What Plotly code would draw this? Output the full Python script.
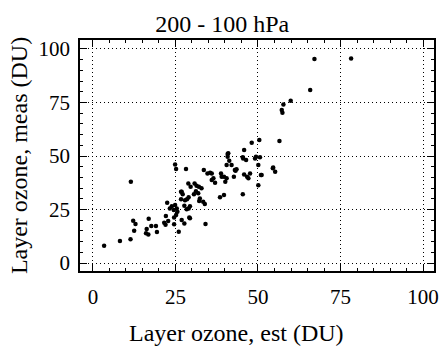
import plotly.graph_objects as go

# Estimated vs measured layer ozone, 200-100 hPa layer (DU)
est_du = [
    3.4, 8.2, 11.4, 11.5, 12.2, 12.9, 12.5, 16.3, 16.1, 16.8, 16.9, 17.7, 19.1, 19.4,
    21.6, 22.0, 22.8, 22.1, 22.5, 23.3, 23.9, 24.5, 24.9, 25.4, 25.6, 25.2, 24.6, 24.6,
    26.0, 24.9, 25.2, 28.2, 26.7, 27.2, 26.7, 27.9, 28.5, 29.0, 27.7, 28.4, 29.0, 29.4,
    29.2, 27.7, 28.9, 29.6, 30.8, 31.4, 32.1, 32.9, 30.6, 31.2, 31.9, 32.4, 32.2, 33.4,
    33.9, 34.1, 33.6, 34.7, 35.5, 36.0, 36.5, 38.5, 39.7, 38.8, 39.7, 40.5, 40.1, 40.5,
    40.8, 41.3, 42.0, 43.2, 43.5, 42.7, 45.4, 45.8, 46.4, 45.8, 45.4, 46.7, 47.6, 48.1,
    49.4, 50.1, 50.1,
    67.1, 78.2, 65.8, 59.9, 57.7, 57.2, 57.4, 50.4, 56.5, 54.6, 49.1, 51.1, 54.5, 55.2,
    41.0, 40.8, 45.5, 50.6, 43.0, 47.1, 50.9, 36.0, 37.0, 39.0, 26.9, 26.9, 29.4,
]
meas_du = [
    8.1, 10.3, 11.1, 38.0, 19.8, 18.2, 15.1, 15.9, 13.9, 13.4, 20.7, 17.3, 17.3, 14.5,
    18.8, 17.9, 19.6, 22.0, 28.2, 25.5, 26.6, 24.8, 27.1, 25.5, 24.0, 22.4, 21.3, 18.1,
    14.6, 46.1, 43.9, 43.9, 33.3, 32.1, 29.8, 29.4, 29.8, 30.7, 26.8, 25.1, 25.5, 26.6,
    21.3, 18.5, 37.2, 35.7, 37.2, 36.1, 35.7, 34.9, 32.1, 33.6, 32.6, 30.2, 29.0, 28.7,
    27.6, 18.2, 43.5, 41.9, 42.2, 38.8, 39.6, 30.7, 31.8, 41.9, 40.3, 39.6, 38.0, 45.8,
    50.9, 47.8, 45.8, 43.1, 43.8, 40.3, 49.4, 52.8, 48.1, 41.4, 32.2, 40.3, 41.9, 56.2,
    49.7, 45.8, 36.4,
    95.3, 95.6, 80.8, 75.8, 74.1, 71.5, 70.2, 57.5, 57.0, 44.7, 48.9, 41.1, 44.3, 42.7,
    51.3, 49.7, 48.9, 49.4, 43.5, 39.6, 41.1, 41.9, 37.5, 40.3, 33.3, 20.1, 20.9,
]
tick_vals = [0, 25, 50, 75, 100]
tick_text = ["0", "25", "50", "75", "100"]

serif = "Liberation Serif, Times New Roman, serif"

fig = go.Figure(
    go.Scatter(
        x=est_du, y=meas_du, mode="markers",
        marker=dict(color="black", size=4.5, line=dict(width=0)),
        showlegend=False,
    )
)

axis_common = dict(
    tickvals=tick_vals, ticktext=tick_text,
    showgrid=True, gridcolor="black", gridwidth=1.2, griddash="1.2px,2.8px",
    zeroline=False, automargin=False,
    showline=True, linecolor="black", linewidth=1.5, mirror="allticks",
    ticks="inside", ticklen=7, tickwidth=1.3, tickcolor="black",
    minor=dict(dtick=5, tick0=0, ticks="inside", ticklen=3.5, tickwidth=1, tickcolor="black",
               showgrid=False),
    tickfont=dict(family=serif, size=21, color="black"),
    title_font=dict(family=serif, size=24, color="black"),
)

fig.update_xaxes(range=[-3.9, 103.3], ticklabelstandoff=6, **axis_common)
fig.update_yaxes(range=[-3.7, 104.2], title_text="Layer ozone, meas (DU)",
                 title_standoff=4, ticklabelstandoff=4, **axis_common)

# x-axis title placed as an annotation, slightly left of the axis centre
fig.add_annotation(
    text="Layer ozone, est (DU)", xref="paper", yref="paper",
    x=0.4435, y=-0.268, xanchor="center", yanchor="middle", showarrow=False,
    font=dict(family=serif, size=24, color="black"),
)

fig.update_layout(
    width=447, height=352,
    margin=dict(l=80, r=13, t=40, b=81),
    paper_bgcolor="white", plot_bgcolor="white",
    title=dict(text="200 - 100 hPa", x=0.497, xanchor="center",
               y=0.932, yanchor="middle",
               font=dict(family=serif, size=24, color="black")),
)

fig.write_html("out.html")
